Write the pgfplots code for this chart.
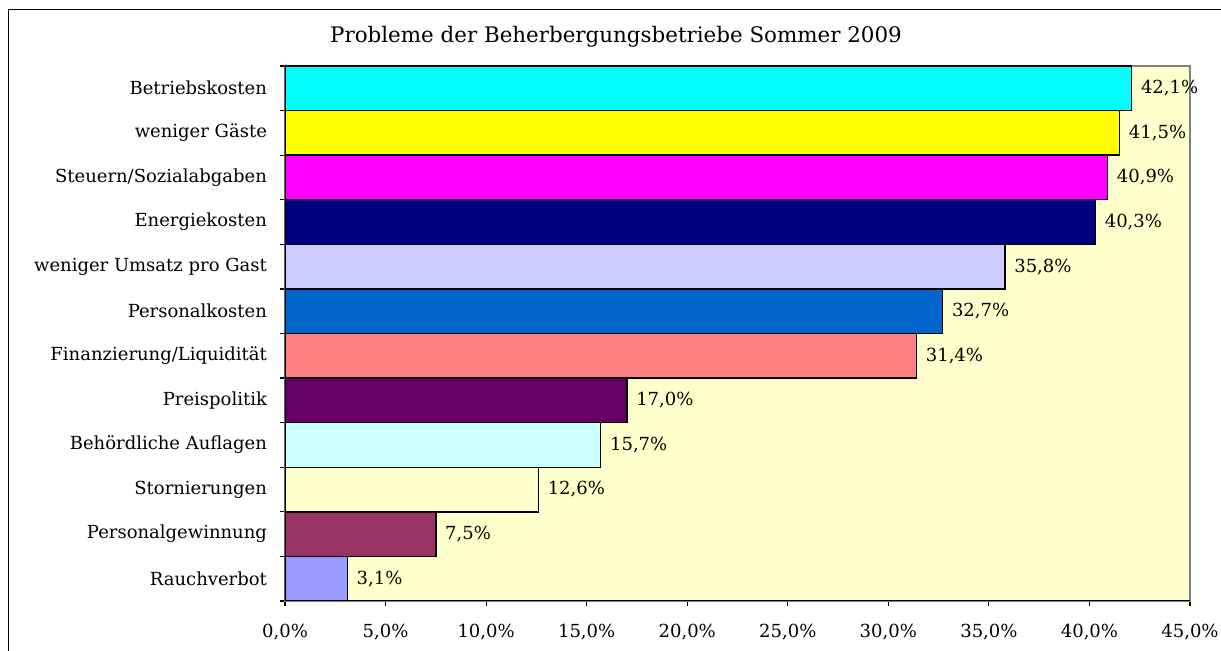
\documentclass[border=0pt]{standalone}
\usepackage{fontspec}
\setmainfont{DejaVu Serif}
\usepackage{pgfplots}
\pgfplotsset{compat=1.18}
\definecolor{bg}{HTML}{FFFFCC}
\definecolor{c01}{HTML}{00FFFF}
\definecolor{c02}{HTML}{FFFF00}
\definecolor{c03}{HTML}{FF00FF}
\definecolor{c04}{HTML}{000080}
\definecolor{c05}{HTML}{CCCCFF}
\definecolor{c06}{HTML}{0066CC}
\definecolor{c07}{HTML}{FF8080}
\definecolor{c08}{HTML}{660066}
\definecolor{c09}{HTML}{CCFFFF}
\definecolor{c10}{HTML}{FFFFCC}
\definecolor{c11}{HTML}{993366}
\definecolor{c12}{HTML}{9999FF}
\begin{document}
\begin{tikzpicture}
\useasboundingbox (0,0) rectangle (610.5pt,325.5pt);
\draw[black, line width=0.5pt] (4pt,-5pt) rectangle (620pt,320.5pt);
\node[font=\fontsize{10.7}{12}\selectfont] at (308pt,307pt) {Probleme der Beherbergungsbetriebe Sommer 2009};
\begin{axis}[
  at={(142.5pt,25pt)}, anchor=south west,
  scale only axis, width=452.5pt, height=267.5pt,
  xbar, bar shift=0pt, bar width=1,
  xmin=0, xmax=45, ymin=-0.5, ymax=11.5,
  axis background/.style={fill=bg},
  axis line style={draw=gray, line width=0.6pt},
  xtick={0,5,...,45},
  ytick={0,...,11},
  yticklabels={Rauchverbot, Personalgewinnung, Stornierungen, Behördliche Auflagen, Preispolitik, Finanzierung/Liquidität, Personalkosten, weniger Umsatz pro Gast, Energiekosten, Steuern/Sozialabgaben, weniger Gäste, Betriebskosten},
  minor ytick={-0.5,0.5,...,11.5},
  major y tick style={draw=none},
  minor y tick style={draw=black, line width=0.6pt},
  major x tick style={draw=black, line width=0.6pt},
  major tick length=2.5pt, minor tick length=2.5pt,
  tick align=outside,
  xtick pos=bottom, ytick pos=left,
  /pgf/number format/.cd, fixed, fixed zerofill, precision=1, use comma, assume math mode=true,
  /pgfplots/.cd,
  xticklabel={\pgfmathprintnumber{\tick}\%},
  tick label style={font=\fontsize{9}{11}\selectfont, black},
  xticklabel style={yshift=-5.5pt},
  yticklabel style={xshift=-3pt},
  nodes near coords={\pgfmathprintnumber{\pgfplotspointmeta}\%},
  every node near coord/.append style={anchor=west, font=\fontsize{9}{11}\selectfont, black, xshift=1pt},
  every axis plot/.append style={draw=black, line width=0.7pt},
]
\addplot[fill=c12] coordinates {(3.1,0)};
\addplot[fill=c11] coordinates {(7.5,1)};
\addplot[fill=c10] coordinates {(12.6,2)};
\addplot[fill=c09] coordinates {(15.7,3)};
\addplot[fill=c08] coordinates {(17.0,4)};
\addplot[fill=c07] coordinates {(31.4,5)};
\addplot[fill=c06] coordinates {(32.7,6)};
\addplot[fill=c05] coordinates {(35.8,7)};
\addplot[fill=c04] coordinates {(40.3,8)};
\addplot[fill=c03] coordinates {(40.9,9)};
\addplot[fill=c02] coordinates {(41.5,10)};
\addplot[fill=c01] coordinates {(42.1,11)};
\draw[black, line width=0.8pt] (rel axis cs:0,1) -- (rel axis cs:0,0) -- (rel axis cs:1,0);
\end{axis}
\end{tikzpicture}
\end{document}
